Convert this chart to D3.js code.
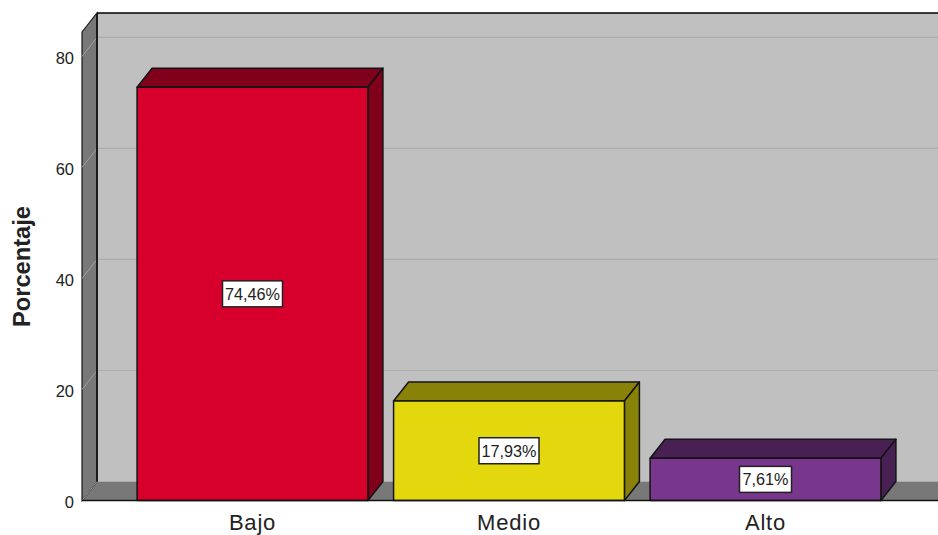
<!DOCTYPE html>
<html>
<head>
<meta charset="utf-8">
<script src="https://cdn.jsdelivr.net/npm/d3@7"></script>
<style>
  html, body { margin: 0; padding: 0; background: #fff; }
  svg { display: block; }
  text { font-family: "Liberation Sans", Arial, sans-serif; fill: #222; }
</style>
</head>
<body>
<svg id="chart" width="938" height="535"></svg>
<script>
const categories = ["Bajo", "Medio", "Alto"];
const values = [74.46, 17.93, 7.61];
const valueLabels = ["74,46%", "17,93%", "7,61%"];
const frontColors = ["#d7002d", "#e3d80d", "#78368c"];
const topColors = ["#80001b", "#888208", "#482054"];
const yTicks = [0, 20, 40, 60, 80];

const width = 938, height = 535;
const plotLeft = 82, plotBottom = 500.5, plotTop = 32;
const depthX = 15, depthY = 19; // 3d offset of the back wall

const svg = d3.select("#chart");

const y = d3.scaleLinear().domain([0, 84.4]).range([plotBottom, plotTop]);
const x = d3.scaleBand().domain(categories)
  .range([124.25, 893.75]).paddingInner(0.1).paddingOuter(0.05);

const poly = pts => pts.map(p => p.join(",")).join(" ");

// back wall
svg.append("polygon")
  .attr("points", poly([[plotLeft + depthX, plotTop - depthY], [width, plotTop - depthY], [width, plotBottom - depthY], [plotLeft + depthX, plotBottom - depthY]]))
  .attr("fill", "#c0c0c0");

// floor
svg.append("polygon")
  .attr("points", poly([[plotLeft, plotBottom], [plotLeft + depthX, plotBottom - depthY], [width, plotBottom - depthY], [width, plotBottom]]))
  .attr("fill", "#787878");

// left side wall
svg.append("polygon")
  .attr("points", poly([[plotLeft, plotTop], [plotLeft + depthX, plotTop - depthY], [plotLeft + depthX, plotBottom - depthY], [plotLeft, plotBottom]]))
  .attr("fill", "#787878")
  .attr("stroke", "#1a1a1a")
  .attr("stroke-width", 1.2);

// gridlines, wrapping from the side wall onto the back wall
const grid = svg.append("g");
grid.selectAll(".side").data(yTicks).enter().append("line")
  .attr("class", "side")
  .attr("x1", plotLeft).attr("x2", plotLeft + depthX)
  .attr("y1", d => y(d)).attr("y2", d => y(d) - depthY)
  .attr("stroke", "#a0a0a0").attr("stroke-width", 1);
grid.selectAll(".back").data(yTicks.filter(d => d > 0)).enter().append("line")
  .attr("class", "back")
  .attr("x1", plotLeft + depthX).attr("x2", width)
  .attr("y1", d => y(d) - depthY).attr("y2", d => y(d) - depthY)
  .attr("stroke", "#adadad").attr("stroke-width", 1.2);

// edges of the box
svg.append("line")
  .attr("x1", plotLeft + depthX).attr("x2", width)
  .attr("y1", plotTop - depthY).attr("y2", plotTop - depthY)
  .attr("stroke", "#000").attr("stroke-width", 1.6);
svg.append("line")
  .attr("x1", plotLeft + depthX).attr("x2", plotLeft + depthX)
  .attr("y1", plotTop - depthY).attr("y2", plotBottom - depthY)
  .attr("stroke", "#1a1a1a").attr("stroke-width", 2);

// bars
const bars = svg.selectAll(".bar").data(categories).enter().append("g").attr("class", "bar");
const barStroke = { stroke: "#141414", "stroke-width": 1.5, "stroke-linejoin": "round" };

function applyStroke(sel) {
  Object.entries(barStroke).forEach(([k, v]) => sel.attr(k, v));
  return sel;
}

// top face
applyStroke(bars.append("polygon")
  .attr("points", (d, i) => {
    const x0 = x(d), x1 = x0 + x.bandwidth(), yt = y(values[i]);
    return poly([[x0, yt], [x0 + depthX, yt - depthY], [x1 + depthX, yt - depthY], [x1, yt]]);
  })
  .attr("fill", (d, i) => topColors[i]));

// right face
applyStroke(bars.append("polygon")
  .attr("points", (d, i) => {
    const x1 = x(d) + x.bandwidth(), yt = y(values[i]);
    return poly([[x1, yt], [x1 + depthX, yt - depthY], [x1 + depthX, y(0) - depthY], [x1, y(0)]]);
  })
  .attr("fill", (d, i) => topColors[i]));

// front face
applyStroke(bars.append("rect")
  .attr("x", d => x(d))
  .attr("y", (d, i) => y(values[i]))
  .attr("width", x.bandwidth())
  .attr("height", (d, i) => y(0) - y(values[i]))
  .attr("fill", (d, i) => frontColors[i]));

// value labels
const labels = svg.selectAll(".val").data(categories).enter().append("g").attr("class", "val")
  .attr("transform", (d, i) => `translate(${x(d) + x.bandwidth() / 2},${(y(0) + y(values[i])) / 2})`);
labels.append("rect")
  .attr("x", (d, i) => i === 2 ? -26 : -30)
  .attr("width", (d, i) => i === 2 ? 52 : 60)
  .attr("y", -13).attr("height", 26)
  .attr("fill", "#fff").attr("stroke", "#222").attr("stroke-width", 1.5);
labels.append("text")
  .attr("text-anchor", "middle")
  .attr("dy", "0.36em")
  .attr("font-size", 16)
  .attr("textLength", (d, i) => i === 2 ? 46 : 55)
  .attr("lengthAdjust", "spacingAndGlyphs")
  .text((d, i) => valueLabels[i]);

// y axis
const yAxis = svg.append("g")
  .attr("transform", `translate(${plotLeft},2)`)
  .call(d3.axisLeft(y).tickValues(yTicks).tickSize(0).tickPadding(8));
yAxis.select(".domain").remove();
yAxis.selectAll("text").attr("font-size", 16.5).style("font-family", null);

// baseline and category labels
const xAxis = svg.append("g")
  .attr("transform", `translate(0,${plotBottom})`)
  .call(d3.axisBottom(x).tickSize(0).tickPadding(13.5));
xAxis.select(".domain").remove();
xAxis.selectAll("text").attr("font-size", 22).attr("letter-spacing", 0.8).attr("fill", "#333").style("font-family", null);

svg.append("line")
  .attr("x1", plotLeft).attr("x2", width)
  .attr("y1", plotBottom).attr("y2", plotBottom)
  .attr("stroke", "#111").attr("stroke-width", 1.4);

svg.append("text")
  .attr("transform", `translate(30,${(206 + 327) / 2}) rotate(-90)`)
  .attr("text-anchor", "middle")
  .attr("font-size", 23)
  .attr("font-weight", "bold")
  .attr("fill", "#111")
  .attr("textLength", 121)
  .attr("lengthAdjust", "spacingAndGlyphs")
  .text("Porcentaje");
</script>
</body>
</html>
